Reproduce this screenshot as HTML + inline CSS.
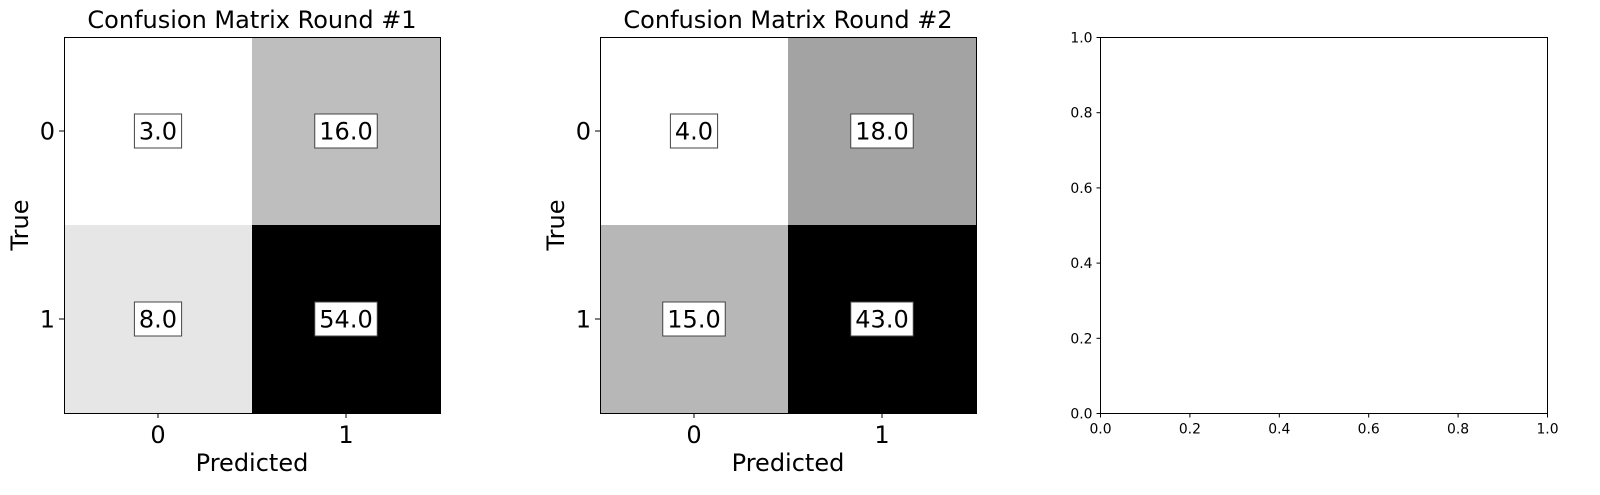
<!DOCTYPE html>
<html><head><meta charset="utf-8"><style>body{margin:0;background:#fff}svg{display:block}text{font-family:"DejaVu Sans","Liberation Sans",sans-serif}</style></head>
<body>
<svg id="chart" width="1600" height="495" xmlns="http://www.w3.org/2000/svg"></svg>
<script>
const titles = ["Confusion Matrix Round #1", "Confusion Matrix Round #2"];
const matrix1 = [[3, 16], [8, 54]];
const matrix2 = [[4, 18], [15, 43]];
const classLabels = ["0", "1"];
const emptyTicks = ["0.0", "0.2", "0.4", "0.6", "0.8", "1.0"];

const svg = document.getElementById('chart');
const NS = "http://www.w3.org/2000/svg";
function mk(tag, attrs, parent, txt) {
  const e = document.createElementNS(NS, tag);
  for (const k in attrs) e.setAttribute(k, attrs[k]);
  if (txt !== undefined) e.textContent = txt;
  (parent || svg).appendChild(e);
  return e;
}
const topY = 37, size = 376, FS = 24;
function heatmap(x0, m, title, idx) {
  const g = mk('g', {});
  
  
  const flat = m.flat(), mn = Math.min(...flat), mx = Math.max(...flat);
  const n = m.length, cs = size / n;
  for (let r = 0; r < n; r++) for (let c = 0; c < n; c++) {
    const v = m[r][c];
    const gray = Math.round(255 * (1 - (v - mn) / (mx - mn)));
    const rect = mk('rect', {x: x0 + c * cs, y: topY + r * cs, width: cs, height: cs, fill: `rgb(${gray},${gray},${gray})`}, g);
    
    
    const label = v.toFixed(1);
    const w = (label.length - 1) * 15.3 + 7.6 + 9;
    const cx = x0 + c * cs + cs / 2, cy = topY + r * cs + cs / 2;
    const box = mk('rect', {x: cx - w / 2, y: cy - 17, width: w, height: 34, fill: '#fff', stroke: '#444', 'stroke-width': 1}, g);
    
    
    const t = mk('text', {x: cx, y: cy + 8.5, 'font-size': FS, 'text-anchor': 'middle'}, g, label);
    
    
  }
  mk('rect', {x: x0 + 0.5, y: topY + 0.5, width: size, height: size, fill: 'none', stroke: '#000', 'stroke-width': 1}, g);
  for (let i = 0; i < n; i++) {
    const c = x0 + i * cs + cs / 2;
    mk('line', {x1: c, x2: c, y1: topY + size, y2: topY + size + 5, stroke: '#000'}, g);
    const tx = mk('text', {x: c, y: topY + size + 30, 'font-size': FS, 'text-anchor': 'middle'}, g, classLabels[i]);
    
    
    const cy = topY + i * cs + cs / 2;
    mk('line', {x1: x0 - 5, x2: x0, y1: cy, y2: cy, stroke: '#000'}, g);
    const ty = mk('text', {x: x0 - 9, y: cy + 8.5, 'font-size': FS, 'text-anchor': 'end'}, g, classLabels[i]);
    
    
  }
  const tt = mk('text', {x: x0 + size / 2, y: 28, 'font-size': FS, 'text-anchor': 'middle'}, g, title);
  
  
  const xl = mk('text', {x: x0 + size / 2, y: 471, 'font-size': FS, 'text-anchor': 'middle'}, g, 'Predicted');
  
  
  const yx = x0 - 36, yy = topY + size / 2;
  const yl = mk('text', {x: yx, y: yy, 'font-size': FS, 'text-anchor': 'middle', transform: `rotate(-90 ${yx} ${yy})`}, g, 'True');
  
  
}
heatmap(64, matrix1, titles[0], 1);
heatmap(600, matrix2, titles[1], 2);

const g3 = mk('g', {});


const ex0 = 1100.5, ex1 = 1547.5, ey0 = 413.5, ey1 = 37.5;
mk('rect', {x: ex0, y: ey1, width: ex1 - ex0, height: ey0 - ey1, fill: 'none', stroke: '#000'}, g3);
emptyTicks.forEach((lab, i) => {
  const v = parseFloat(lab);
  const x = ex0 + v * (ex1 - ex0), y = ey0 - v * (ey0 - ey1);
  mk('line', {x1: x, x2: x, y1: ey0, y2: ey0 + 4, stroke: '#000'}, g3);
  const tx = mk('text', {x: x, y: ey0 + 20, 'font-size': 13.9, 'text-anchor': 'middle'}, g3, lab);
  
  
  mk('line', {x1: ex0 - 4, x2: ex0, y1: y, y2: y, stroke: '#000'}, g3);
  const ty = mk('text', {x: ex0 - 8, y: y + 5, 'font-size': 13.9, 'text-anchor': 'end'}, g3, lab);
  
  
});
</script>
</body></html>
